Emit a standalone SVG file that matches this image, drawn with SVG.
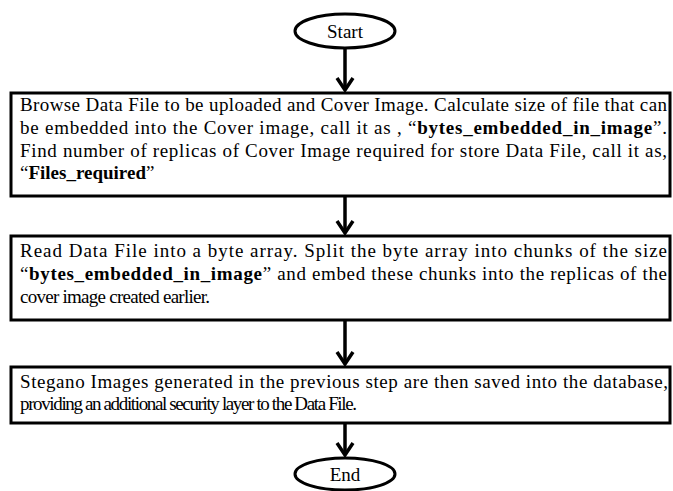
<svg xmlns="http://www.w3.org/2000/svg" width="673" height="491" viewBox="0 0 673 491">
<defs>
<style>
.box{fill:#fff;stroke:#000;stroke-width:3}
.term{fill:#fff;stroke:#000;stroke-width:3}
.t{font-family:"Liberation Serif","Times New Roman",serif;font-size:19px;fill:#000}
.c{text-anchor:middle}
.b{font-weight:bold}
.con{stroke:#000;stroke-width:3.5;fill:none}
</style>
<marker id="ah" viewBox="0 0 20 20" refX="17" refY="10" markerWidth="20" markerHeight="20" markerUnits="userSpaceOnUse" orient="auto">
<path d="M5,2 L17,10 L5,18" fill="none" stroke="#000" stroke-width="3.5" stroke-linejoin="miter"/>
</marker>
</defs>
<rect width="673" height="491" fill="#fff"/>
<g id="connectors">
<path class="con" d="M345,48 V90" marker-end="url(#ah)"/>
<path class="con" d="M345,197 V233" marker-end="url(#ah)"/>
<path class="con" d="M345,321 V364" marker-end="url(#ah)"/>
<path class="con" d="M345,424 V455" marker-end="url(#ah)"/>
</g>
<g id="start">
<ellipse class="term" cx="345" cy="31" rx="50" ry="17"/>
<text class="t c" x="345" y="38">Start</text>
</g>
<g id="step1">
<rect class="box" x="11" y="93" width="659" height="103"/>
<text class="t" x="20" y="111" textLength="647" lengthAdjust="spacing">Browse Data File to be uploaded and Cover Image. Calculate size of file that can</text>
<text class="t" x="20" y="134" textLength="647" lengthAdjust="spacing">be embedded into the Cover image, call it as , “<tspan class="b">bytes_embedded_in_image</tspan>”.</text>
<text class="t" x="20" y="157" textLength="647" lengthAdjust="spacing">Find number of replicas of Cover Image required for store Data File, call it as,</text>
<text class="t" x="20" y="179">“<tspan class="b">Files_required</tspan>”</text>
</g>
<g id="step2">
<rect class="box" x="11" y="236" width="659" height="84"/>
<text class="t" x="20" y="257" textLength="647" lengthAdjust="spacing">Read Data File into a byte array. Split the byte array into chunks of the size</text>
<text class="t" x="20" y="280" textLength="647" lengthAdjust="spacing">“<tspan class="b">bytes_embedded_in_image</tspan>” and embed these chunks into the replicas of the</text>
<text class="t" x="20" y="303" textLength="190" lengthAdjust="spacing">cover image created earlier.</text>
</g>
<g id="step3">
<rect class="box" x="11" y="367" width="659" height="56"/>
<text class="t" x="20" y="388" textLength="648" lengthAdjust="spacing">Stegano Images generated in the previous step are then saved into the database,</text>
<text class="t" x="20" y="410" textLength="337" lengthAdjust="spacing">providing an additional security layer to the Data File.</text>
</g>
<g id="end">
<ellipse class="term" cx="345" cy="474" rx="50" ry="16"/>
<text class="t c" x="345" y="481">End</text>
</g>
</svg>
